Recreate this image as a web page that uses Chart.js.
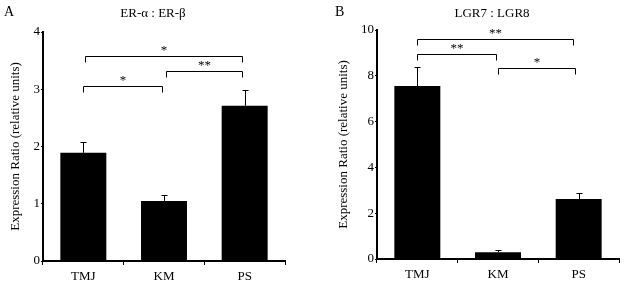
<!DOCTYPE html>
<html>
<head>
<meta charset="utf-8">
<script src="https://cdn.jsdelivr.net/npm/chart.js@4.4.1/dist/chart.umd.min.js"></script>
<style>
  body { margin: 0; background: #fff; }
  #wrap { position: relative; width: 625px; height: 286px; font-family: "Liberation Serif", "Times New Roman", serif; color: #000; }
  .panel { position: absolute; top: 0; height: 286px; }
  .lbl { position: absolute; font-size: 14px; line-height: 14px; }
  .ttl { position: absolute; font-size: 13px; line-height: 13px; transform: translateX(-50%); white-space: nowrap; }
</style>
</head>
<body>
<div id="wrap">
  <div class="panel" style="left:0;width:305px"><canvas id="chartA" width="305" height="286"></canvas></div>
  <div class="panel" style="left:320px;width:305px"><canvas id="chartB" width="305" height="286"></canvas></div>
  <div class="lbl" style="left:4px;top:5px">A</div>
  <div class="ttl" style="left:153px;top:6px">ER-α : ER-β</div>
  <div class="lbl" style="left:335px;top:5px">B</div>
  <div class="ttl" style="left:492px;top:6px">LGR7 : LGR8</div>
</div>
<script>
const categories = ['TMJ', 'KM', 'PS'];

const valuesA = [1.89, 1.05, 2.71];
const errorsA = [0.19, 0.10, 0.27];
const ticksA = [0, 1, 2, 3, 4];
// [from index, to index, height, label]
const bracketsA = [
    [0, 0.97, 3.06, '*'],
    [1.03, 1.97, 3.32, '**'],
    [0.02, 1.97, 3.58, '*']
];

const valuesB = [7.55, 0.30, 2.62];
const errorsB = [0.83, 0.08, 0.26];
const ticksB = [0, 2, 4, 6, 8, 10];
const bracketsB = [
    [0, 0.97, 8.95, '**'],
    [1.0, 1.95, 8.34, '*'],
    [0, 1.93, 9.6, '**']
];

const serif = '"Liberation Serif", "Times New Roman", serif';

const annotate = {
    id: 'annotate',
    afterDatasetsDraw(chart, args, opts) {
        const ctx = chart.ctx;
        const x = chart.scales.x;
        const y = chart.scales.y;
        const meta = chart.getDatasetMeta(0);
        ctx.save();
        ctx.strokeStyle = '#000';
        ctx.fillStyle = '#000';
        ctx.lineWidth = 1;
        // error bars (upper only)
        opts.errors.forEach(function(err, i) {
            const bx = Math.round(meta.data[i].x) + 0.5;
            const y0 = y.getPixelForValue(opts.values[i]);
            const y1 = Math.round(y.getPixelForValue(opts.values[i] + err)) + 0.5;
            ctx.beginPath();
            ctx.moveTo(bx, y0);
            ctx.lineTo(bx, y1);
            ctx.moveTo(bx - 3, y1);
            ctx.lineTo(bx + 3, y1);
            ctx.stroke();
        });
        // significance brackets
        ctx.font = '13px ' + serif;
        ctx.textAlign = 'center';
        ctx.textBaseline = 'bottom';
        opts.brackets.forEach(function(b) {
            const step = x.getPixelForValue(1) - x.getPixelForValue(0);
            const x0 = Math.round(x.getPixelForValue(0) + b[0] * step) + 0.5;
            const x1 = Math.round(x.getPixelForValue(0) + b[1] * step) + 0.5;
            const yy = Math.round(y.getPixelForValue(b[2])) + 0.5;
            ctx.beginPath();
            ctx.moveTo(x0, yy + 6);
            ctx.lineTo(x0, yy);
            ctx.lineTo(x1, yy);
            ctx.lineTo(x1, yy + 6);
            ctx.stroke();
            ctx.fillText(b[3], (x0 + x1) / 2, yy + 1);
        });
        ctx.restore();
    }
};

function makeChart(id, values, errors, brackets, ticks, yw, xh, padTop, padRight, titlePad) {
    const ctx = document.getElementById(id).getContext('2d');
    return new Chart(ctx, {
        type: 'bar',
        data: {
            labels: categories,
            datasets: [{
                data: values,
                backgroundColor: '#000',
                borderWidth: 0,
                barPercentage: 0.57,
                categoryPercentage: 1
            }]
        },
        options: {
            responsive: false,
            animation: false,
            layout: { padding: { top: padTop, right: padRight, left: 0, bottom: 0 } },
            plugins: {
                legend: { display: false },
                tooltip: { enabled: false },
                annotate: { values: values, errors: errors, brackets: brackets }
            },
            scales: {
                x: {
                    grid: { display: true, drawOnChartArea: false, drawTicks: true, tickLength: 4, color: '#000', lineWidth: 1, offset: true },
                    border: { display: true, color: '#000', width: 2 },
                    ticks: { color: '#000', font: { family: serif, size: 13 }, padding: 4 },
                    afterFit: function(s) { s.height = xh; }
                },
                y: {
                    min: ticks[0],
                    max: ticks[ticks.length - 1],
                    afterBuildTicks: function(s) { s.ticks = ticks.map(function(v) { return { value: v }; }); },
                    grid: { display: true, drawOnChartArea: false, drawTicks: true, tickLength: 2, color: '#000', lineWidth: 1 },
                    border: { display: true, color: '#000', width: 2 },
                    ticks: { color: '#000', font: { family: serif, size: 13 }, padding: 1 },
                    title: {
                        display: true,
                        text: 'Expression Ratio (relative units)',
                        color: '#000',
                        font: { family: serif, size: 13 },
                        padding: { top: titlePad, bottom: 0 }
                    },
                    afterFit: function(s) { s.width = yw; }
                }
            }
        },
        plugins: [annotate]
    });
}

makeChart('chartA', valuesA, errorsA, bracketsA, ticksA, 43, 25, 32, 20, 8);
makeChart('chartB', valuesB, errorsB, bracketsB, ticksB, 57, 27, 30, 6, 16);
</script>
</body>
</html>
